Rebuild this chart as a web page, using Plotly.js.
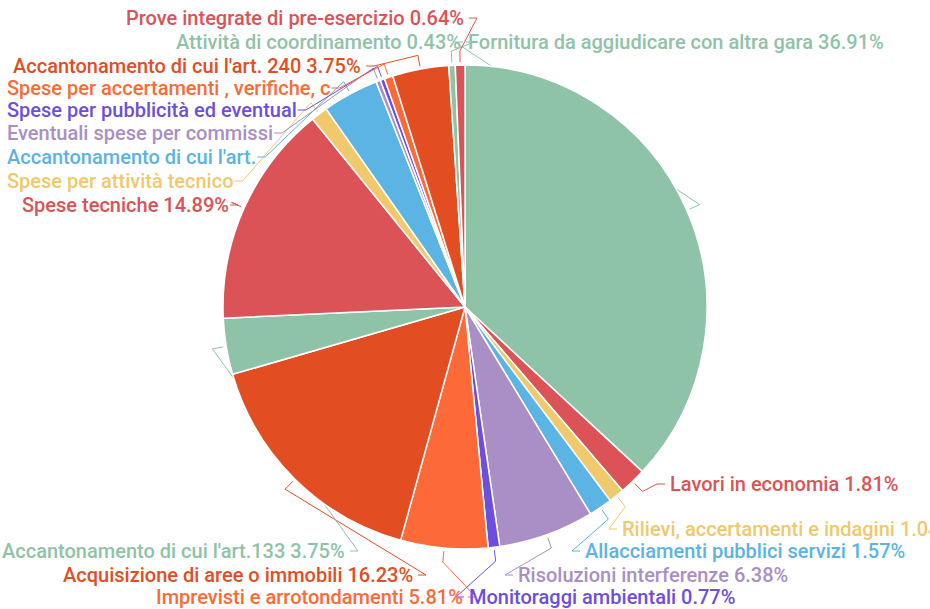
<!DOCTYPE html>
<html>
<head>
<meta charset="utf-8">
<script src="https://cdn.plot.ly/plotly-3.0.1.min.js"></script>
<style>html,body{margin:0;padding:0;background:#fff;}#chart{width:930px;height:609px;}</style>
</head>
<body>
<div id="chart"></div>
<script>
// ---- data ----
const labels = [
  "Fornitura da aggiudicare con altra gara",
  "Lavori in economia",
  "Rilievi, accertamenti e indagini",
  "Allacciamenti pubblici servizi",
  "Risoluzioni interferenze",
  "Monitoraggi ambientali",
  "Imprevisti e arrotondamenti",
  "Acquisizione di aree o immobili",
  "Accantonamento di cui l'art.133",
  "Spese tecniche",
  "Spese per attività tecnico",
  "Accantonamento di cui l'art.",
  "Eventuali spese per commissi",
  "Spese per pubblicità ed eventual",
  "Spese per accertamenti , verifiche, c",
  "Accantonamento di cui l'art. 240",
  "Attività di coordinamento",
  "Prove integrate di pre-esercizio"
];
const values = [36.91, 1.81, 1.04, 1.57, 6.38, 0.77, 5.81, 16.23, 3.75, 14.89,
                1.12, 3.75, 0.29, 0.29, 0.58, 3.75, 0.43, 0.64];
// whether the percentage is shown after the (possibly truncated) label
const showPct = [true, true, true, true, true, true, true, true, true, true,
                 false, false, false, false, false, true, true, true];

// ---- styles / layout ----
const palette = ["#8fc3a8", "#db5356", "#efc96b", "#5bb4e3", "#aa8fc6", "#6d4fe0", "#fd6a37", "#e24e22"];
const colors = values.map((v, i) => palette[i % palette.length]);
const W = 930, H = 609, CX = 465, CY = 307, R = 242;
const FONT_SIZE = 20, FONT_WEIGHT = 500, FONT_FAMILY = "Roboto";
// label anchor positions in pixel space: [x, y, anchor]
const labelPos = [
  [466, 42, "left"],
  [668, 484, "left"],
  [620, 529, "left"],
  [583, 551, "left"],
  [516, 575, "left"],
  [467, 597, "left"],
  [465, 597, "right"],
  [415, 575, "right"],
  [347, 551, "right"],
  [20, 205, "left"],
  [5, 181, "left"],
  [5, 157, "left"],
  [5, 133, "left"],
  [5, 110, "left"],
  [5, 88, "left"],
  [363, 66, "right"],
  [463, 42, "right"],
  [466, 18, "right"]
];

const total = values.reduce((a, b) => a + b, 0);
const traces = [{
  type: "pie",
  labels: labels,
  values: values,
  sort: false,
  direction: "clockwise",
  rotation: 0,
  textinfo: "none",
  hoverinfo: "label+percent",
  marker: {colors: colors, line: {color: "#ffffff", width: 1.5}},
  domain: {x: [(CX - R) / W, (CX + R) / W], y: [(H - CY - R) / H, (H - CY + R) / H]},
  showlegend: false
}];

const canvas = document.createElement("canvas");
const ctx = canvas.getContext("2d");
ctx.font = FONT_WEIGHT + " " + FONT_SIZE + "px " + FONT_FAMILY;

const annotations = [];
let cum = 0;
values.forEach((v, i) => {
  const th = 2 * Math.PI * (cum + v / 2) / total;
  cum += v;
  const p = (rr) => [CX + rr * Math.sin(th), CY - rr * Math.cos(th)];
  const a = p(R + 3), b = p(R + 14);
  const [lx, ly, anc] = labelPos[i];
  const txt = labels[i] + (showPct[i] ? " " + (v / total * 100).toFixed(2) + "%" : "");
  const w = ctx.measureText(txt).width;
  const left = anc === "left" ? lx : lx - w;
  const right = left + w;
  const leftSide = Math.sin(th) < 0;
  const endX = leftSide ? Math.min(right + 3, W - 2) : left - 3;
  const midX = leftSide ? endX + 8 : endX - 8;
  traces.push({
    type: "scatter", mode: "lines", xaxis: "x", yaxis: "y",
    x: [a[0], b[0], midX, endX], y: [a[1], b[1], ly, ly],
    line: {color: colors[i], width: 1}, hoverinfo: "skip", showlegend: false, cliponaxis: false
  });
  annotations.push({
    xref: "x", yref: "y", x: lx, y: ly, xanchor: anc, yanchor: "middle",
    text: txt, showarrow: false,
    font: {family: FONT_FAMILY + ", 'Noto Sans', sans-serif", size: FONT_SIZE, weight: FONT_WEIGHT, color: colors[i]}
  });
});

const layout = {
  width: W, height: H,
  margin: {l: 0, r: 0, t: 0, b: 0},
  paper_bgcolor: "#ffffff", plot_bgcolor: "rgba(0,0,0,0)",
  xaxis: {range: [0, W], visible: false, fixedrange: true},
  yaxis: {range: [H, 0], visible: false, fixedrange: true},
  annotations: annotations,
  showlegend: false
};
Plotly.newPlot("chart", traces, layout, {displayModeBar: false, staticPlot: true});
</script>
</body>
</html>
